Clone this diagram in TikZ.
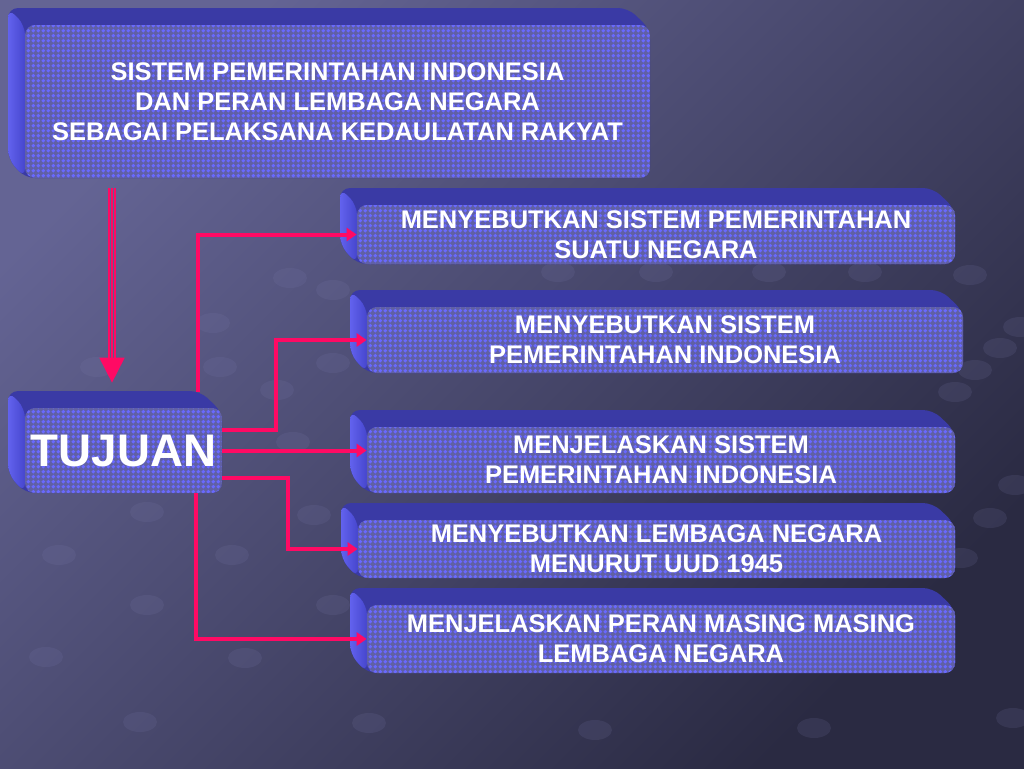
\documentclass[tikz,border=0pt]{standalone}
\usepackage{fontspec}
\setmainfont{Liberation Sans}
\usetikzlibrary{arrows.meta,patterns}

\definecolor{bgtop}{RGB}{100,100,148}
\definecolor{bgbot}{RGB}{42,42,66}
\definecolor{bevtop}{RGB}{58,58,165}
\definecolor{bevleftA}{RGB}{98,98,238}
\definecolor{bevleftB}{RGB}{70,70,205}
\definecolor{facebase}{RGB}{96,96,165}
\definecolor{facedot}{RGB}{105,105,255}
\definecolor{linkpink}{RGB}{255,10,100}
\definecolor{dimple}{RGB}{125,125,175}

% dotted texture of the box faces
\pgfdeclarepatternformonly{boxdots}{\pgfqpoint{0pt}{0pt}}{\pgfqpoint{3pt}{3pt}}{\pgfqpoint{3pt}{3pt}}{%
  \pgfpathcircle{\pgfqpoint{1.5pt}{1.5pt}}{1.25pt}\pgfusepath{fill}}

% back and sides of a box, front face from (#1,#2) to (#3,#4)
\newcommand{\bevel}[4]{%
  \fill[bevtop, rounded corners=0.2cm] (#1-17,#2-17) -- (#3-22,#2-17) -- (#3,#2+4) -- (#3,#4) -- (#1,#4) -- (#1-17,#4-19) -- cycle;
  \shade[left color=bevleftA, right color=bevleftB, rounded corners=0.2cm] (#1-17,#2-17) -- (#1,#2) -- (#1,#4) -- (#1-17,#4-19) -- cycle;
}

\tikzset{
  face/.style={preaction={fill=facebase}, pattern=boxdots, pattern color=facedot,
    rounded corners=0.2cm, inner sep=0pt, align=center, text=white,
    font=\bfseries\fontsize{14.5}{17}\selectfont},
  link/.style={draw=linkpink, line width=0.08cm, -{Triangle[length=0.2cm,width=0.26cm]}},
  downlink/.style={draw=linkpink, line width=0.036cm},
}

\begin{document}
\begin{tikzpicture}[x=0.02cm, y=-0.02cm]
  \useasboundingbox (0,0) rectangle (1024,768);
  \shade[top color=bgtop, bottom color=bgbot, shading angle=45] (0,0) rectangle (1024,768);
  \foreach \x/\y in {147/512,314/515,59/555,232/555,147/605,333/605,46/657,245/658,140/722,369/723,
                     595/730,814/728,1013/718,990/518,961/558,970/275,1020/327,1000/348,975/370,955/392,
                     1015/485,290/278,333/290,213/323,97/367,333/363,293/442,220/367,277/390,
                     558/272,656/272,769/272,865/272}{
    \fill[dimple, opacity=0.15] (\x,\y) ellipse (0.34cm and 0.2cm);
  }

  % title box
  \bevel{25}{25}{650}{178}
  \node[face, minimum width=12.5cm, minimum height=3.06cm] (judul) at (337.5,101.5)
    {SISTEM PEMERINTAHAN INDONESIA\\DAN PERAN LEMBAGA NEGARA\\SEBAGAI PELAKSANA KEDAULATAN RAKYAT};

  % goal boxes
  \foreach \n/\a/\b/\c/\d/\t in {
      tj1/357/205/955/264/{MENYEBUTKAN SISTEM PEMERINTAHAN\\SUATU NEGARA},
      tj2/367/307/963/373/{MENYEBUTKAN SISTEM\\PEMERINTAHAN INDONESIA},
      tj3/367/427/955/493/{MENJELASKAN SISTEM\\PEMERINTAHAN INDONESIA},
      tj4/358/520/955/578/{MENYEBUTKAN LEMBAGA NEGARA\\MENURUT UUD 1945},
      tj5/367/605/955/673/{MENJELASKAN PERAN MASING MASING\\LEMBAGA NEGARA}}{
    \bevel{\a}{\b}{\c}{\d}
    \node[face, minimum width={(\c-\a)*0.02cm}, minimum height={(\d-\b)*0.02cm}]
      (\n) at ({(\a+\c)/2},{(\b+\d)/2}) {\t};
  }

  % TUJUAN
  \bevel{25}{408}{222}{493}
  \node[face, minimum width=3.94cm, minimum height=1.7cm, font=\bfseries\fontsize{26}{30}\selectfont]
    (tujuan) at (123.5,450.5) {TUJUAN};

  % connectors
  \draw[link] ([xshift=-0.48cm,yshift=0.32cm]tujuan.north east) |- (tj1.west);
  \draw[link] ([yshift=0.41cm]tujuan.east) -- ++(54,0) |- (tj2.west);
  \draw[link] (tujuan.east) -- (tujuan.east -| tj3.west);
  \draw[link] ([yshift=-0.55cm]tujuan.east) -- ++(66,0) |- (tj4.west);
  \draw[link] ([xshift=-0.52cm]tujuan.south east) |- (tj5.west);

  % down arrow
  \coordinate (dx) at (112,0);
  \draw[downlink, shorten <=0.2cm, shorten >=0.5cm, -{Triangle[length=0.5cm,width=0.5cm]}]
    (judul.south -| dx) -- (tujuan.north -| dx);
  \foreach \s in {-0.066,0.066}{
    \draw[downlink, shorten <=0.2cm, shorten >=0.9cm, transform canvas={xshift=\s cm}]
      (judul.south -| dx) -- (tujuan.north -| dx);
  }
\end{tikzpicture}
\end{document}
